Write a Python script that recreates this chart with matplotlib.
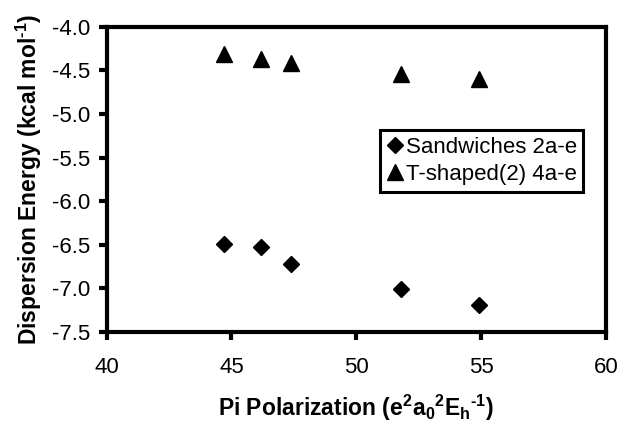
import matplotlib
matplotlib.use("Agg")
import matplotlib.pyplot as plt

plt.rcParams["font.family"] = ["Liberation Sans", "DejaVu Sans"]
plt.rcParams["axes.unicode_minus"] = False
plt.rcParams["mathtext.fontset"] = "custom"
plt.rcParams["mathtext.rm"] = "Liberation Sans"
plt.rcParams["mathtext.bf"] = "Liberation Sans:bold"
plt.rcParams["mathtext.default"] = "bf"

# polarization values and dispersion energies
pol = [44.7, 46.2, 47.4, 51.8, 54.9]
sandwich = [-6.49, -6.53, -6.72, -7.01, -7.19]
tshaped = [-4.31, -4.37, -4.42, -4.54, -4.60]

fig = plt.figure(figsize=(6.21, 4.22), dpi=100)
ax = fig.add_axes([0.1715, 0.2133, 0.805, 0.7235])

ax.plot(pol, sandwich, linestyle="none", marker="D", ms=8.5, color="black",
        label="Sandwiches 2a-e")
ax.plot(pol, tshaped, linestyle="none", marker="^", ms=12, color="black",
        label="T-shaped(2) 4a-e")

ax.set_xlim(40, 60)
ax.set_ylim(-7.5, -4.0)
ax.set_xticks([40, 45, 50, 55, 60])
ax.set_yticks([-7.5, -7.0, -6.5, -6.0, -5.5, -5.0, -4.5, -4.0])
ax.set_yticklabels(["%.1f" % v for v in ax.get_yticks()])

for s in ax.spines.values():
    s.set_linewidth(3)
ax.tick_params(direction="out", length=6, width=3, labelsize=16)
ax.tick_params(axis="x", pad=12)
ax.tick_params(axis="y", pad=5.5)

ax.set_xlabel("Pi Polarization (e$^2$a$_0$$^2$E$_h$$^{\u20101}$)", fontsize=16.5,
              fontweight="bold", labelpad=10.5)
ax.set_ylabel("Dispersion Energy (kcal mol$^{\u20101}$)", fontsize=16.5,
              fontweight="bold", labelpad=6)

leg = ax.legend(loc="upper left", bbox_to_anchor=(0.547, 0.662), fontsize=16,
                frameon=True, fancybox=False, edgecolor="black",
                framealpha=1, handlelength=0.75, handletextpad=0.1,
                borderpad=0.3, labelspacing=0.29, borderaxespad=0)
leg.get_frame().set_linewidth(2.2)

fig.savefig("out.png", dpi=100)
